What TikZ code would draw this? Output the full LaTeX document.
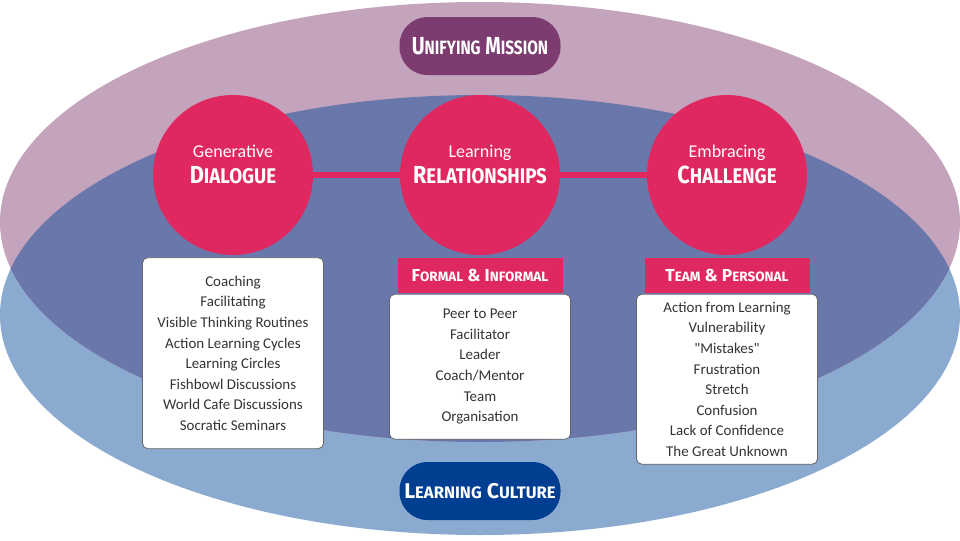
\documentclass[tikz,border=0pt]{standalone}
\usepackage{fontspec}
\setmainfont{Carlito}
\newfontfamily\headfont[FakeStretch=0.8]{Fira Sans}
\newfontfamily\hubfont[FakeStretch=0.88]{Fira Sans}
\newfontfamily\tagfont{Fira Sans}
\usetikzlibrary{positioning}

\definecolor{mauve}{RGB}{196,163,188}
\definecolor{paleblue}{RGB}{139,170,208}
\definecolor{overlap}{RGB}{106,119,170}
\definecolor{crimson}{RGB}{224,40,96}
\definecolor{plum}{RGB}{124,60,112}
\definecolor{navy}{RGB}{0,62,146}

% fake small caps for the headings
\newcommand{\smc}[2][0.78]{\scalebox{#1}{#2}}
\newcommand{\hubword}[2]{{\hubfont\bfseries\fontsize{18.5}{20}\selectfont #1\smc[0.86]{#2}}}

\begin{document}
\begin{tikzpicture}[x=0.75pt, y=-0.75pt,
    hub/.style={circle, fill=crimson, minimum size=120pt, inner sep=0pt, text depth=15.5pt, align=center, text=white, font=\fontsize{13.5}{19.5}\selectfont},
    link/.style={draw=crimson, line width=4.5pt},
    pill/.style={rectangle, rounded corners=21pt, minimum width=120.75pt, minimum height=43.5pt, text=white, font=\headfont\bfseries\fontsize{18.5}{20}\selectfont},
    tag/.style={rectangle, fill=crimson, minimum width=123.75pt, minimum height=26.25pt, text=white, font=\tagfont\bfseries\fontsize{13}{15}\selectfont},
    listbox/.style={rectangle, draw=black!60, line width=0.6pt, fill=white, rounded corners=4pt, minimum width=135.75pt, align=center, text=black!80, font=\fontsize{11.2}{15.4}\selectfont}
]
\useasboundingbox (0,0) rectangle (960,540);

% Background: the two overlapping ellipses
\fill[paleblue] (480,315) ellipse [x radius=480, y radius=220];
\fill[mauve] (480,222) ellipse [x radius=480, y radius=220];
\begin{scope}
    \clip (480,315) ellipse [x radius=480, y radius=220];
    \fill[overlap] (480,222) ellipse [x radius=480, y radius=220];
\end{scope}

% Top and bottom labels
\node (mission) [pill, fill=plum] at (480,46) {U\smc{NIFYING} M\smc{ISSION}};
\node (culture) [pill, fill=navy, font=\tagfont\bfseries\fontsize{16}{18}\selectfont] at (480,491) {L\smc{EARNING} C\smc{ULTURE}};

% Row of circles
\node (dlg) [hub] at (233,175) {Generative\\\hubword{D}{IALOGUE}};
\node (rel) [hub] at (480,175) {Learning\\\hubword{R}{ELATIONSHIPS}};
\node (chl) [hub] at (727,175) {Embracing\\\hubword{C}{HALLENGE}};

\draw[link] (dlg) -- (rel);
\draw[link] (rel) -- (chl);

% Tags and lists under the circles
\node (dlglist) [listbox, minimum height=143.25pt, below=1.5pt of dlg] {Coaching\\Facilitating\\Visible Thinking Routines\\Action Learning Cycles\\Learning Circles\\Fishbowl Discussions\\World Cafe Discussions\\Socratic Seminars};

\node (reltag) [tag, below=1.5pt of rel] {F\smc{ORMAL} \& I\smc{NFORMAL}};
\node (rellist) [listbox, minimum height=108.75pt, below=0.75pt of reltag] {Peer to Peer\\Facilitator\\Leader\\Coach/Mentor\\Team\\Organisation};

\node (chltag) [tag, below=1.5pt of chl] {T\smc{EAM} \& P\smc{ERSONAL}};
\node (chllist) [listbox, minimum height=127.5pt, below=0.75pt of chltag] {Action from Learning\\Vulnerability\\\textquotedbl Mistakes\textquotedbl\\Frustration\\Stretch\\Confusion\\Lack of Confidence\\The Great Unknown};

\end{tikzpicture}
\end{document}
